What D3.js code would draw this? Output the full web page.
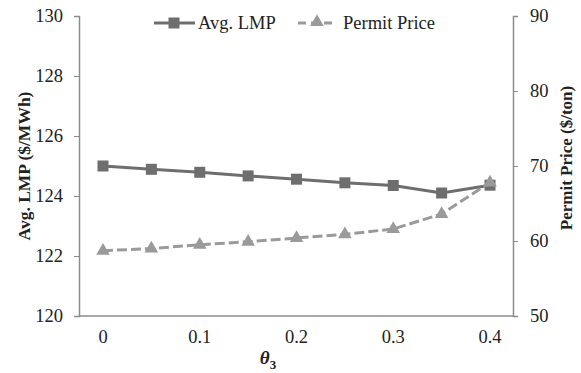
<!DOCTYPE html>
<html>
<head>
<meta charset="utf-8">
<script src="https://cdn.jsdelivr.net/npm/d3@7"></script>
<style>
  body { margin: 0; background: #fff; }
</style>
</head>
<body>
<div id="chart"></div>
<script>
// data
const theta = [0, 0.05, 0.1, 0.15, 0.2, 0.25, 0.3, 0.35, 0.4];
const avgLMP = [125.0, 124.89, 124.79, 124.67, 124.56, 124.44, 124.35, 124.1, 124.36];
const permitPrice = [58.7, 59.0, 59.5, 59.9, 60.4, 60.9, 61.6, 63.6, 67.8];
const xTicks = [0, 0.1, 0.2, 0.3, 0.4];
const leftTicks = [120, 122, 124, 126, 128, 130];
const rightTicks = [50, 60, 70, 80, 90];

const width = 581, height = 373;
const plotLeft = 79, plotRight = 513, plotTop = 16, plotBottom = 316;
const serif = "'Liberation Serif', 'Times New Roman', Times, serif";

const svg = d3.select("#chart").append("svg")
    .attr("width", width)
    .attr("height", height)
    .attr("font-family", serif);

const x = d3.scaleLinear().domain([0, 0.4]).range([103, 490]);
const yL = d3.scaleLinear().domain([120, 130]).range([plotBottom, plotTop]);
const yR = d3.scaleLinear().domain([50, 90]).range([plotBottom, plotTop]);

const axisColor = "#8c8c8c";

// left axis
const gl = svg.append("g")
    .attr("transform", `translate(${plotLeft},0)`)
    .call(d3.axisLeft(yL).tickValues(leftTicks).tickSize(5).tickPadding(11));
// right axis
const gr = svg.append("g")
    .attr("transform", `translate(${plotRight},0)`)
    .call(d3.axisRight(yR).tickValues(rightTicks).tickSize(5).tickPadding(12));
[gl, gr].forEach(g => {
  g.attr("font-family", serif).attr("font-size", 18.5);
  g.select(".domain").attr("stroke", axisColor).attr("stroke-width", 1.5);
  g.selectAll(".tick line").attr("stroke", axisColor);
  g.selectAll("text").attr("fill", "#222");
});

// bottom line, no ticks
svg.append("line")
    .attr("x1", plotLeft).attr("x2", plotRight)
    .attr("y1", plotBottom).attr("y2", plotBottom)
    .attr("stroke", axisColor).attr("stroke-width", 1.5);

svg.append("g")
  .selectAll("text")
  .data(xTicks)
  .join("text")
    .attr("x", d => x(d))
    .attr("y", 343)
    .attr("text-anchor", "middle")
    .attr("font-size", 18.5)
    .attr("fill", "#222")
    .text(d => d);

// axis titles
svg.append("text")
    .attr("x", 268).attr("y", 364)
    .attr("text-anchor", "middle")
    .attr("font-size", 19)
    .attr("font-weight", "bold")
    .attr("font-style", "italic")
    .attr("fill", "#222")
    .text("θ")
  .append("tspan")
    .attr("dy", 5)
    .attr("font-size", 13)
    .attr("font-style", "normal")
    .text("3");

svg.append("text")
    .attr("transform", "translate(30,166) rotate(-90)")
    .attr("text-anchor", "middle")
    .attr("font-size", 17.5)
    .attr("font-weight", "bold")
    .attr("fill", "#222")
    .text("Avg. LMP ($/MWh)");

svg.append("text")
    .attr("transform", "translate(572,158) rotate(-90)")
    .attr("text-anchor", "middle")
    .attr("font-size", 17)
    .attr("font-weight", "bold")
    .attr("fill", "#222")
    .text("Permit Price ($/ton)");

const lmpColor = "#6e6e6e";
const permitColor = "#9a9a9a";
const tri = d3.symbol().type(d3.symbolTriangle).size(80);

// LMP series
const lmpLine = d3.line().x((d, i) => x(theta[i])).y(d => yL(d));
svg.append("path")
    .datum(avgLMP)
    .attr("fill", "none")
    .attr("stroke", lmpColor)
    .attr("stroke-width", 3)
    .attr("d", lmpLine);

svg.append("g")
  .selectAll("rect")
  .data(avgLMP)
  .join("rect")
    .attr("x", (d, i) => x(theta[i]) - 5.5)
    .attr("y", d => yL(d) - 5.5)
    .attr("width", 11)
    .attr("height", 11)
    .attr("fill", lmpColor);

// permit price series (drawn on top)
const permitLine = d3.line().x((d, i) => x(theta[i])).y(d => yR(d));
svg.append("path")
    .datum(permitPrice)
    .attr("fill", "none")
    .attr("stroke", permitColor)
    .attr("stroke-width", 3)
    .attr("stroke-dasharray", "10,4")
    .attr("d", permitLine);

svg.append("g")
  .selectAll("path")
  .data(permitPrice)
  .join("path")
    .attr("transform", (d, i) => `translate(${x(theta[i])},${yR(d)})`)
    .attr("d", tri)
    .attr("fill", permitColor);

// legend
const legend = svg.append("g").attr("font-size", 18.5).attr("fill", "#222");
legend.append("line")
    .attr("x1", 154).attr("x2", 195).attr("y1", 23).attr("y2", 23)
    .attr("stroke", lmpColor).attr("stroke-width", 3);
legend.append("rect")
    .attr("x", 168.5).attr("y", 17.5).attr("width", 11).attr("height", 11)
    .attr("fill", lmpColor);
legend.append("text")
    .attr("x", 198).attr("y", 29)
    .text("Avg. LMP");

legend.append("line")
    .attr("x1", 298).attr("x2", 337).attr("y1", 23).attr("y2", 23)
    .attr("stroke", permitColor).attr("stroke-width", 3)
    .attr("stroke-dasharray", "8,5");
legend.append("path")
    .attr("transform", "translate(317,22)")
    .attr("d", tri)
    .attr("fill", permitColor);
legend.append("text")
    .attr("x", 343).attr("y", 29)
    .text("Permit Price");
</script>
</body>
</html>
